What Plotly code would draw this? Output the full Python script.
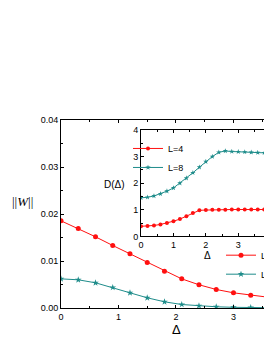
import plotly.graph_objects as go

# Main plot data: ||W|| vs Delta
delta_main = [0.0, 0.3, 0.6, 0.9, 1.2, 1.5, 1.8, 2.1, 2.4, 2.7, 3.0, 3.3, 3.6]
w_L4 = [0.01855, 0.0169, 0.01515, 0.0133, 0.01153, 0.00968, 0.00783, 0.0062, 0.00494, 0.00394, 0.00323, 0.00272, 0.0023]
w_L8 = [0.0062, 0.0060, 0.00536, 0.00436, 0.00323, 0.00217, 0.00132, 0.00074, 0.00047, 0.00026, 0.00015, 0.0001, 0.00006]

# Inset data: D(Delta)
delta_inset = [0.0, 0.2, 0.4, 0.6, 0.8, 1.0, 1.2, 1.4, 1.6, 1.8, 2.0, 2.2, 2.4, 2.6, 2.8, 3.0, 3.2, 3.4, 3.6, 3.8]
d_L4 = [0.38, 0.39, 0.41, 0.45, 0.50, 0.57, 0.65, 0.76, 0.88, 0.98, 0.99, 1.00, 1.00, 1.00, 1.01, 1.01, 1.01, 1.01, 1.01, 1.01]
d_L8 = [1.45, 1.47, 1.52, 1.60, 1.70, 1.82, 2.00, 2.19, 2.39, 2.60, 2.81, 3.00, 3.16, 3.21, 3.19, 3.18, 3.17, 3.16, 3.15, 3.14]

main_ticks = [0, 1, 2, 3]
main_yticks = [0.00, 0.01, 0.02, 0.03, 0.04]
inset_ticks = [0, 1, 2, 3, 4]

RED = "#FF1010"
TEAL = "#1E8C8A"
FONT = "Liberation Sans, Arial, sans-serif"

fig = go.Figure()

fig.add_trace(go.Scatter(x=delta_main, y=w_L4, mode="lines+markers", name="L=4",
                         line=dict(color=RED, width=1), marker=dict(color=RED, size=5, symbol="circle"),
                         xaxis="x", yaxis="y", legend="legend"))
fig.add_trace(go.Scatter(x=delta_main, y=w_L8, mode="lines+markers", name="L=8",
                         line=dict(color=TEAL, width=1), marker=dict(color=TEAL, size=5, symbol="star"),
                         xaxis="x", yaxis="y", legend="legend"))
fig.add_trace(go.Scatter(x=delta_inset, y=d_L4, mode="lines+markers", name="L=4",
                         line=dict(color=RED, width=1), marker=dict(color=RED, size=4, symbol="circle"),
                         xaxis="x2", yaxis="y2", legend="legend2"))
fig.add_trace(go.Scatter(x=delta_inset, y=d_L8, mode="lines+markers", name="L=8",
                         line=dict(color=TEAL, width=1), marker=dict(color=TEAL, size=4, symbol="star"),
                         xaxis="x2", yaxis="y2", legend="legend2"))

# page body has an 8px margin: figure sits at (8, 8) in the window
OFF = 8
W, H = 264, 336
# plot area in window pixels: x 61..272, y 120..308.5
L, R, T, B = 61 - OFF, 272 - OFF, 120 - OFF, 308.5 - OFF
def px(xw):
    return (xw - OFF - L) / (R - L)
def py(yw):
    return (B - (yw - OFF)) / (B - T)

axis_common = dict(showline=True, linecolor="black", linewidth=1, ticks="inside", ticklen=3,
                   tickcolor="black", showgrid=False, zeroline=False,
                   tickfont=dict(family=FONT, size=9, color="black"))
minor_common = dict(ticks="inside", ticklen=2, tickcolor="black")

fig.update_layout(
    width=W, height=H,
    margin=dict(l=L, r=W - R, t=T, b=H - B, pad=0, autoexpand=False),
    paper_bgcolor="white", plot_bgcolor="white",
    font=dict(family=FONT, size=9, color="black"),
    xaxis=dict(range=[0, 3.67], tickvals=main_ticks, mirror="ticks",
               minor=dict(dtick=0.5, **minor_common), **axis_common),
    yaxis=dict(range=[0, 0.04], tickvals=main_yticks, tickformat=".2f", mirror=False,
               minor=dict(dtick=0.005, **minor_common), **axis_common),
    xaxis2=dict(domain=[px(141), 1], anchor="y2", range=[0, 4.04], tickvals=inset_ticks, mirror="ticks",
                minor=dict(dtick=0.5, **minor_common), **axis_common),
    yaxis2=dict(domain=[py(236.7), py(130)], anchor="x2", range=[0, 4], tickvals=inset_ticks, mirror=False,
                minor=dict(dtick=0.5, **minor_common), **axis_common),
    legend=dict(x=px(221), y=py(241), xanchor="left", yanchor="top", bgcolor="rgba(0,0,0,0)",
                font=dict(family=FONT, size=9), tracegroupgap=0),
    legend2=dict(x=px(128), y=py(134), xanchor="left", yanchor="top", bgcolor="rgba(0,0,0,0)",
                 font=dict(family=FONT, size=9), tracegroupgap=0),
    showlegend=True,
)

ann = dict(xref="paper", yref="paper", showarrow=False, xanchor="center", yanchor="middle")
fig.add_annotation(text="||<i>W</i>||", x=px(22.5), y=py(201.7),
                   font=dict(family="Liberation Serif, Times New Roman, serif", size=13), **ann)
fig.add_annotation(text="Δ", x=px(176), y=py(330), font=dict(family=FONT, size=13), **ann)
fig.add_annotation(text="D(Δ)", x=px(114.5), y=py(184.7), font=dict(family=FONT, size=10), **ann)
fig.add_annotation(text="Δ", x=px(207), y=py(256), font=dict(family=FONT, size=10), **ann)

fig.write_html("out.html")
